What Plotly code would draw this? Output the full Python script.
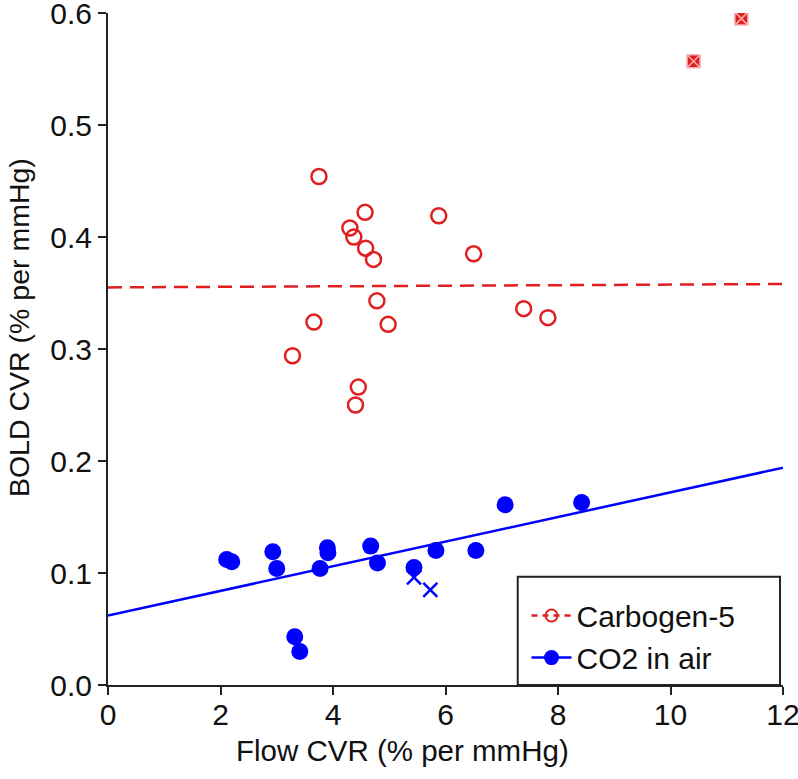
import plotly.graph_objects as go

# Carbogen-5 (open red circles)
carb_x = [3.75, 4.57, 4.30, 4.37, 4.58, 4.72, 5.88, 6.50, 4.78, 4.98, 3.66, 3.28, 4.45, 4.40, 7.39, 7.82]
carb_y = [0.454, 0.422, 0.408, 0.400, 0.390, 0.380, 0.419, 0.385, 0.343, 0.322, 0.324, 0.294, 0.266, 0.250, 0.336, 0.328]
# Carbogen-5 excluded points (crossed squares)
carb_out_x = [10.41, 11.26]
carb_out_y = [0.557, 0.595]
# CO2 in air (filled blue circles)
co2_x = [2.11, 2.20, 2.93, 3.00, 3.32, 3.41, 3.77, 3.90, 3.91, 4.67, 4.79, 5.44, 5.83, 6.54, 7.06, 8.42]
co2_y = [0.112, 0.110, 0.119, 0.104, 0.043, 0.030, 0.104, 0.1225, 0.118, 0.124, 0.109, 0.105, 0.120, 0.120, 0.161, 0.163]
# CO2 in air excluded points (x markers)
co2_out_x = [5.44, 5.73]
co2_out_y = [0.096, 0.085]
# Fit lines
fit_x = [0, 12]
carb_fit_y = [0.355, 0.358]
co2_fit_y = [0.062, 0.194]

x_ticks = [0, 2, 4, 6, 8, 10, 12]
y_ticks = [0.0, 0.1, 0.2, 0.3, 0.4, 0.5, 0.6]

RED = "#e02020"
BLUE = "#0000ff"
FONT = "Liberation Sans, Arial, sans-serif"

fig = go.Figure()

fig.add_trace(go.Scatter(x=fit_x, y=carb_fit_y, mode="lines",
                         line=dict(color=RED, width=2.5, dash="14px,8px"),
                         showlegend=False, hoverinfo="skip"))
fig.add_trace(go.Scatter(x=fit_x, y=co2_fit_y, mode="lines",
                         line=dict(color=BLUE, width=2.5),
                         showlegend=False, hoverinfo="skip"))
fig.add_trace(go.Scatter(x=carb_x, y=carb_y, mode="markers",
                         marker=dict(symbol="circle-open", size=15, color=RED, line=dict(width=2.5, color=RED)),
                         showlegend=False))
fig.add_trace(go.Scatter(x=carb_out_x, y=carb_out_y, mode="markers",
                         marker=dict(symbol="square-x", size=13, color=RED, line=dict(width=1.5, color="#f7b0b0")),
                         showlegend=False))
fig.add_trace(go.Scatter(x=co2_x, y=co2_y, mode="markers",
                         marker=dict(symbol="circle", size=17, color=BLUE, line=dict(width=0)),
                         showlegend=False))
fig.add_trace(go.Scatter(x=co2_out_x, y=co2_out_y, mode="markers",
                         marker=dict(symbol="x-thin", size=14, color=BLUE, line=dict(width=2.5, color=BLUE)),
                         showlegend=False))

# legend entries
fig.add_trace(go.Scatter(x=[None], y=[None], mode="lines+markers", name="Carbogen-5",
                         line=dict(color=RED, width=2.5, dash="6px,5px"),
                         marker=dict(symbol="circle-open", size=12, color=RED, line=dict(width=2, color=RED))))
fig.add_trace(go.Scatter(x=[None], y=[None], mode="lines+markers", name="CO2 in air",
                         line=dict(color=BLUE, width=2.5),
                         marker=dict(symbol="circle", size=15, color=BLUE)))

axis_common = dict(showline=True, linecolor="#222", linewidth=2, ticks="outside", ticklen=8,
                   tickwidth=2, tickcolor="#222", showgrid=False, zeroline=False,
                   tickfont=dict(family=FONT, size=30, color="#111"),
                   ticklabeloverflow="allow", automargin=False, mirror=False)

fig.update_layout(
    width=798, height=779,
    margin=dict(l=108, r=15, t=13, b=94),
    paper_bgcolor="white", plot_bgcolor="white",
    font=dict(family=FONT, color="#111"),
    xaxis=dict(range=[0, 12], tickvals=x_ticks, ticktext=[str(v) for v in x_ticks],
               ticklabelstandoff=-6, **axis_common),
    yaxis=dict(range=[0, 0.6], tickvals=y_ticks, ticktext=[f"{v:.1f}" for v in y_ticks], **axis_common),
    legend=dict(x=0.62, y=0.072, xanchor="left", yanchor="middle",
                bgcolor="rgba(0,0,0,0)", borderwidth=0,
                font=dict(family=FONT, size=30, color="#111"),
                tracegroupgap=0, itemwidth=40),
    shapes=[dict(type="rect", xref="paper", yref="paper", x0=0.607, x1=0.9956, y0=0, y1=0.161,
                 line=dict(color="#222", width=2), fillcolor="rgba(0,0,0,0)", layer="above")],
    annotations=[
        dict(text="Flow CVR (% per mmHg)", xref="paper", yref="paper", x=0.436, y=-0.097,
             xanchor="center", yanchor="middle", showarrow=False,
             font=dict(family=FONT, size=29.5, color="#111")),
        dict(text="BOLD CVR (% per mmHg)", xref="paper", yref="paper", x=-0.131, y=0.532,
             xanchor="center", yanchor="middle", showarrow=False, textangle=-90,
             font=dict(family=FONT, size=28.5, color="#111")),
    ],
)

fig.write_html("out.html", config={"displayModeBar": False},
               post_script="document.body.style.margin='0px';")
